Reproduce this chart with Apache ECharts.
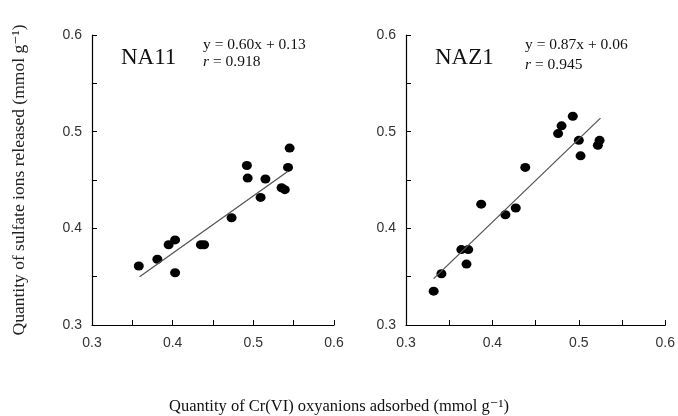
<!DOCTYPE html>
<html>
<head>
<meta charset="utf-8">
<script src="https://cdn.jsdelivr.net/npm/echarts@6/dist/echarts.min.js"></script>
<style>
html, body { margin: 0; padding: 0; background: #fff; }
#main { width: 678px; height: 416px; }
</style>
</head>
<body>
<div id="main"></div>
<script>
// NA11 panel: adsorbed Cr(VI) vs released sulfate
var na11Points = [
  [0.358, 0.361], [0.381, 0.368], [0.395, 0.383], [0.403, 0.388], [0.403, 0.354],
  [0.435, 0.383], [0.439, 0.383], [0.473, 0.411], [0.492, 0.465], [0.493, 0.452],
  [0.509, 0.432], [0.515, 0.451], [0.535, 0.442], [0.539, 0.440], [0.543, 0.463],
  [0.545, 0.483]
];
var na11Fit = [[0.359, 0.350], [0.543, 0.459]];

// NAZ1 panel
var naz1Points = [
  [0.332, 0.335], [0.341, 0.353], [0.364, 0.378], [0.372, 0.378], [0.370, 0.363],
  [0.387, 0.425], [0.415, 0.414], [0.427, 0.421], [0.438, 0.463], [0.476, 0.498],
  [0.480, 0.506], [0.493, 0.516], [0.500, 0.491], [0.502, 0.475], [0.522, 0.486],
  [0.524, 0.491]
];
var naz1Fit = [[0.332, 0.348], [0.525, 0.514]];

var axisTicks = [0.3, 0.4, 0.5, 0.6];

var serif = '"Liberation Serif", "DejaVu Serif", serif';
var sans = '"Liberation Sans", Arial, sans-serif';

var myChart = echarts.init(document.getElementById('main'));

function makeAxis(idx, isY) {
  return {
    type: 'value',
    gridIndex: idx,
    min: axisTicks[0],
    max: axisTicks[axisTicks.length - 1],
    interval: 0.05,
    axisLine: { show: true, onZero: false, lineStyle: { color: '#000', width: 1.2 } },
    axisTick: { show: true, inside: true, length: 5, lineStyle: { color: '#000' } },
    splitLine: { show: false },
    axisLabel: {
      margin: isY ? 10 : 11,
      fontFamily: sans,
      fontSize: 14,
      color: '#333',
      formatter: function (v) {
        var r = Math.round(v * 100);
        return r % 10 === 0 ? (r / 100).toFixed(1) : '';
      }
    }
  };
}

var yLeft = makeAxis(0, true);
yLeft.name = 'Quantity of sulfate ions released (mmol g\u207B\u00B9)';
yLeft.nameLocation = 'middle';
yLeft.nameGap = 64;
yLeft.nameTextStyle = { fontFamily: serif, fontSize: 17.5, color: '#222' };

// titles carry a 5px default padding, so positions are offset by it
function label(text, left, top, size) {
  return {
    text: text, left: left, top: top,
    textStyle: {
      fontFamily: serif, fontSize: size, fontWeight: 'normal', color: '#111',
      rich: { i: { fontFamily: serif, fontSize: size, fontStyle: 'italic', color: '#111' } }
    }
  };
}

var option = {
  animation: false,
  backgroundColor: '#fff',
  title: [
    label('NA11', 116, 41, 23),
    label('NAZ1', 430, 41, 23),
    label('y = 0.60x + 0.13', 198, 32, 15.5),
    label('{i|r} = 0.918', 198, 49, 15.5),
    label('y = 0.87x + 0.06', 520, 32, 15.5),
    label('{i|r} = 0.945', 520, 52, 15.5),
    label('Quantity of Cr(VI) oxyanions adsorbed (mmol g\u207B\u00B9)', 'center', 393, 16.5)
  ],
  grid: [
    { left: 92, top: 35, width: 242, height: 290 },
    { left: 406, top: 35, width: 260, height: 290 }
  ],
  xAxis: [makeAxis(0, false), makeAxis(1, false)],
  yAxis: [yLeft, makeAxis(1, true)],
  series: [
    {
      type: 'scatter', xAxisIndex: 0, yAxisIndex: 0, data: na11Points,
      symbolSize: [10, 9], itemStyle: { color: '#000', opacity: 1 }
    },
    {
      type: 'line', xAxisIndex: 0, yAxisIndex: 0, data: na11Fit,
      symbol: 'none', lineStyle: { color: '#555', width: 1.3 }
    },
    {
      type: 'scatter', xAxisIndex: 1, yAxisIndex: 1, data: naz1Points,
      symbolSize: [10, 9], itemStyle: { color: '#000', opacity: 1 }
    },
    {
      type: 'line', xAxisIndex: 1, yAxisIndex: 1, data: naz1Fit,
      symbol: 'none', lineStyle: { color: '#555', width: 1.3 }
    }
  ]
};

myChart.setOption(option);
</script>
</body>
</html>
